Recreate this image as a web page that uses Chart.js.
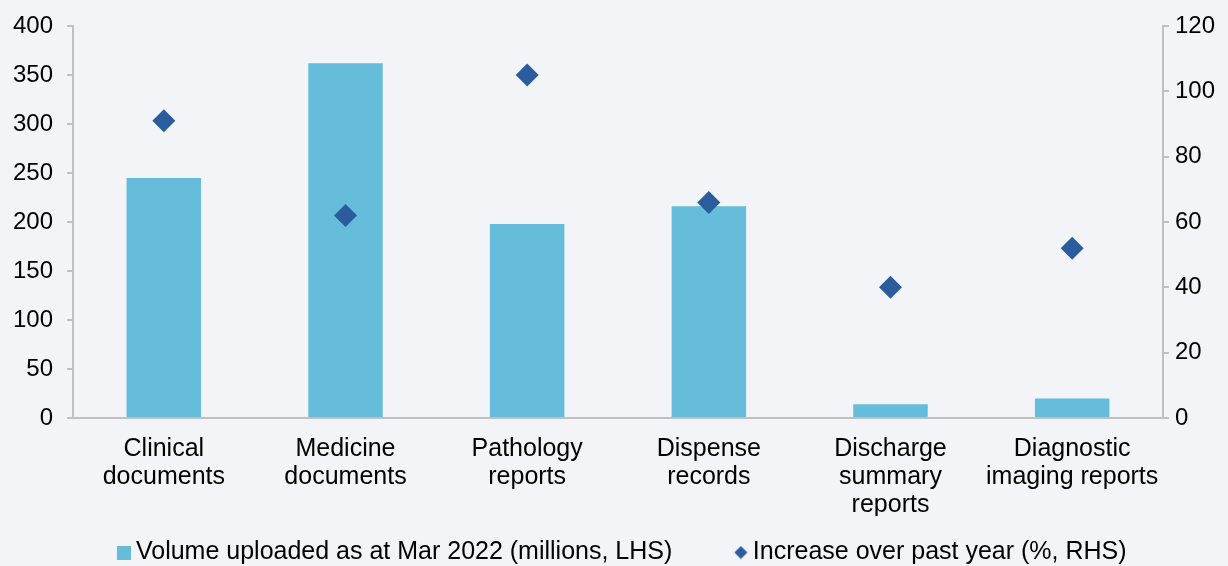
<!DOCTYPE html>
<html>
<head>
<meta charset="utf-8">
<script src="https://cdn.jsdelivr.net/npm/chart.js@4/dist/chart.umd.min.js"></script>
<style>
  html, body { margin: 0; padding: 0; background: #f3f4f7; }
  .wrap { width: 1228px; height: 566px; }
</style>
</head>
<body>
<div class="wrap"><canvas id="c"></canvas></div>
<script>
const categories = [
    ["Clinical", "documents"],
    ["Medicine", "documents"],
    ["Pathology", "reports"],
    ["Dispense", "records"],
    ["Discharge", "summary", "reports"],
    ["Diagnostic", "imaging reports"]
];
const volumeUploaded = [245, 362, 198, 216, 14, 20];   // millions, LHS
const yearIncrease = [91, 62, 105, 66, 40, 52];        // %, RHS

const barBlue = "#66bcdb";
const diamondBlue = "#2b5c9e";
const axisGrey = "#c0c0c0";
const family = "'Liberation Sans', Arial, sans-serif";
const yFont = { family: family, size: 24 };
const xFont = { family: family, size: 25, lineHeight: 1.12 };
const legendFont = { family: family, size: 25 };

// legend markers: blank on the left, shape sits at the right end close to the text
const markerBox = 44;
function makeMarker(kind) {
    const cv = document.createElement("canvas");
    cv.width = markerBox + 15; cv.height = 14;
    const g = cv.getContext("2d");
    const x0 = cv.width - 14;
    if (kind === "square") {
        g.fillStyle = barBlue;
        g.fillRect(x0, 0, 14, 14);
    } else {
        g.fillStyle = diamondBlue;
        g.beginPath();
        g.moveTo(x0 + 7, 0.5); g.lineTo(x0 + 13.5, 7); g.lineTo(x0 + 7, 13.5); g.lineTo(x0 + 0.5, 7);
        g.closePath();
        g.fill();
    }
    return cv;
}
const squareMarker = makeMarker("square");
const diamondMarker = makeMarker("diamond");

new Chart(document.getElementById("c"), {
    data: {
        labels: categories,
        datasets: [
            {
                type: "scatter",
                label: "Increase over past year (%, RHS)",
                data: yearIncrease,
                yAxisID: "y1",
                pointStyle: "rectRot",
                pointRadius: 11.5,
                pointHoverRadius: 11.5,
                backgroundColor: diamondBlue,
                borderColor: diamondBlue,
                borderWidth: 0,
                showLine: false,
                order: 0
            },
            {
                type: "bar",
                label: "Volume uploaded as at Mar 2022 (millions, LHS)",
                data: volumeUploaded,
                yAxisID: "y",
                backgroundColor: barBlue,
                barPercentage: 0.41,
                categoryPercentage: 1,
                order: 1
            }
        ]
    },
    options: {
        responsive: true,
        maintainAspectRatio: false,
        animation: false,
        // shifted left a little so the legend sits where the original one is
        layout: { padding: { top: 26, bottom: -9, left: -11, right: 11 } },
        plugins: {
            tooltip: { enabled: false },
            legend: {
                position: "bottom",
                reverse: true,
                labels: {
                    usePointStyle: true,
                    pointStyleWidth: markerBox,
                    boxHeight: 14,
                    padding: 24,
                    color: "#000",
                    font: legendFont,
                    generateLabels: (chart) => {
                        const items = Chart.defaults.plugins.legend.labels.generateLabels(chart);
                        items.forEach(it => {
                            it.pointStyle = chart.data.datasets[it.datasetIndex].type === "bar" ? squareMarker : diamondMarker;
                        });
                        return items;
                    }
                }
            }
        },
        scales: {
            x: {
                type: "category",
                offset: true,
                grid: { display: false, drawTicks: false },
                border: { color: axisGrey, width: 2 },
                ticks: { color: "#000", font: xFont, padding: 17, maxRotation: 0, autoSkip: false },
                afterFit: (axis) => { axis.height = 98; }
            },
            y: {
                position: "left",
                min: 0,
                max: 400,
                grid: { drawOnChartArea: false, color: axisGrey, tickLength: 6, lineWidth: 2 },
                border: { color: axisGrey, width: 2 },
                ticks: { stepSize: 50, color: "#000", font: yFont, padding: 14 },
                afterFit: (axis) => { axis.width = 84; axis.paddingTop = 0; }
            },
            y1: {
                position: "right",
                min: 0,
                max: 120,
                grid: { drawOnChartArea: false, color: axisGrey, tickLength: 6, lineWidth: 2 },
                border: { color: axisGrey, width: 2 },
                ticks: { stepSize: 20, color: "#000", font: yFont, padding: 6 },
                afterFit: (axis) => { axis.width = 54; axis.paddingTop = 0; }
            }
        }
    }
});
</script>
</body>
</html>
